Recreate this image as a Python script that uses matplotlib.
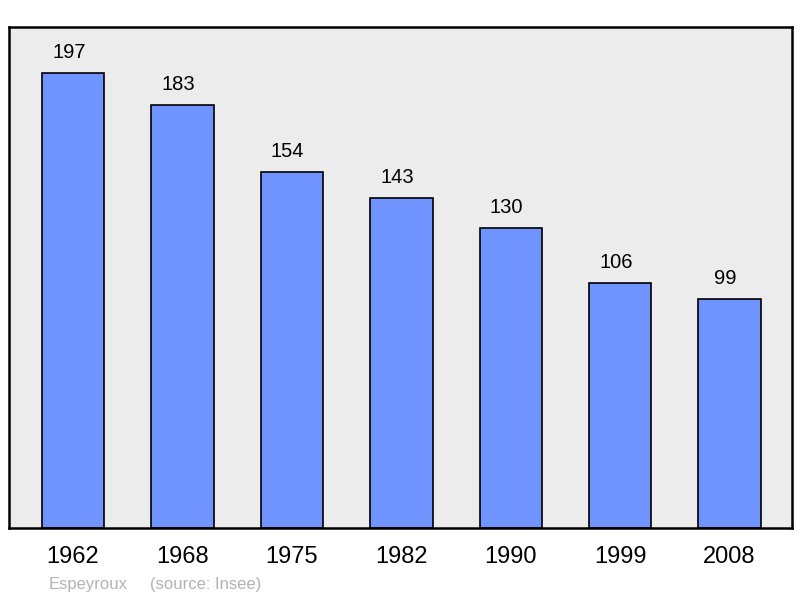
import matplotlib
matplotlib.use('Agg')
from matplotlib import pyplot as plt

plt.rcParams['font.family'] = ['Liberation Sans', 'DejaVu Sans']

years = ['1962', '1968', '1975', '1982', '1990', '1999', '2008']
population = [197, 183, 154, 143, 130, 106, 99]
commune = 'Espeyroux'
source = '(source: Insee)'

fig = plt.figure(figsize=(8, 5.98), dpi=100)
ax = fig.add_axes([9/800, 70/598, 783/800, 501/598])
ax.set_facecolor('#ececec')

x = range(len(years))
ax.bar(x, population, width=0.57, color='#7094ff', edgecolor='black', linewidth=1.2, zorder=2)
for xi, v in zip(x, population):
    ax.annotate(str(v), (xi, v), xytext=(-3, 8), textcoords='offset points',
                ha='center', va='bottom', fontsize=14.5)

ax.set_xlim(-0.585, 6.57)
ax.set_ylim(0, 216.9)
ax.set_yticks([])
ax.set_xticks(list(x))
ax.set_xticklabels(years, fontsize=17)
ax.tick_params(axis='x', length=0, pad=13)
for s in ax.spines.values():
    s.set_linewidth(1.8)

# commune name + source
fig.text(49/800, 1 - 584/598, commune, fontsize=12, color='#b3b3b3', ha='left', va='center')
fig.text(150/800, 1 - 584/598, source, fontsize=12, color='#b3b3b3', ha='left', va='center')

fig.savefig('out.png', dpi=100)
